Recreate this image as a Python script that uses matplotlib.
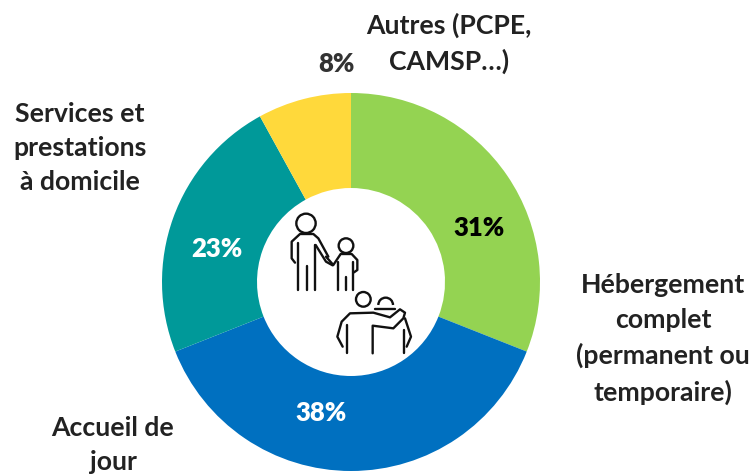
import matplotlib
matplotlib.use('Agg')
import matplotlib.pyplot as plt
from matplotlib.patches import Circle, Arc

plt.rcParams['font.family'] = ['Lato', 'DejaVu Sans']

# Data
categories = ['Hébergement\ncomplet\n(permanent ou\ntemporaire)', 'Accueil de\njour',
              'Services et\nprestations\nà domicile', 'Autres (PCPE,\nCAMSP…)']
values = [31, 38, 23, 8]
value_labels = ['31%', '38%', '23%', '8%']
colors = ['#94D352', '#0070C0', '#009999', '#FFD93B']
label_colors = ['#000000', '#ffffff', '#ffffff', '#333333']

# Label positions in pixels from the top left corner
cat_pos = [(663, 339), (113, 445), (80, 148), (449, 43)]
val_pos = [(479, 228), (321, 413), (217, 249), (336, 64)]

fig = plt.figure(figsize=(7.55, 4.75), dpi=100)
ax = fig.add_axes([0, 0, 1, 1])

ax.pie(values, colors=colors, startangle=90, counterclock=False,
       radius=189, center=(351, 475 - 282),
       wedgeprops=dict(width=189 - 94, linewidth=0), frame=True)
ax.set_xlim(0, 755)
ax.set_ylim(0, 475)
ax.set_aspect('equal')
ax.axis('off')

for name, (x, y) in zip(categories, cat_pos):
    ax.text(x, 475 - y, name, ha='center', va='center', fontsize=19.2,
            fontweight='bold', color='#222222', linespacing=1.52)

for lab, col, (x, y) in zip(value_labels, label_colors, val_pos):
    ax.text(x, 475 - y, lab, ha='center', va='center', fontsize=18.5,
            fontweight='heavy', color=col)


def to_xy(p):
    return 250 + p[0] / 3, 475 - (190 + p[1] / 3)


icon_lines = [
    # adult
    [(135, 218), (125, 205), (125, 155), (150, 132), (190, 132), (205, 145), (235, 200)],
    [(143, 160), (143, 300)],
    [(170, 228), (170, 300)],
    [(195, 165), (195, 300)],
    [(197, 165), (228, 215), (248, 226)],
    # child
    [(228, 200), (250, 225), (272, 192), (305, 192), (322, 210), (322, 240), (312, 247)],
    [(265, 215), (265, 300)],
    [(287, 260), (287, 300)],
    [(308, 215), (308, 300)],
    # pair
    [(278, 470), (262, 440), (275, 395), (300, 370), (370, 368), (420, 382), (450, 358),
     (465, 368), (460, 385), (430, 415), (368, 407), (368, 490)],
    [(290, 405), (290, 490)],
    [(462, 420), (462, 490)],
    [(465, 385), (483, 440), (470, 470)],
    [(375, 358), (435, 358)],
]
for line in icon_lines:
    pts = [to_xy(p) for p in line]
    ax.plot([p[0] for p in pts], [p[1] for p in pts], color='#111111', lw=1.7,
            solid_capstyle='round', solid_joinstyle='round')

for cx, cy, r in [(168, 100, 29), (288, 167, 22), (340, 328, 22)]:
    ax.add_patch(Circle(to_xy((cx, cy)), r / 3, fill=False, ec='#111111', lw=1.7))
ax.add_patch(Arc(to_xy((407, 345)), 44 / 3, 44 / 3, theta1=0, theta2=180,
                 ec='#111111', lw=1.7))

fig.savefig('out.png', dpi=100)
